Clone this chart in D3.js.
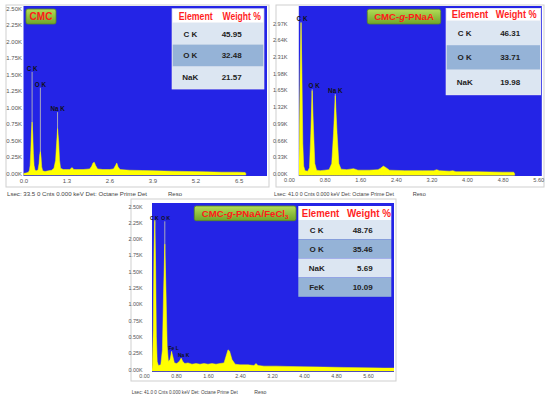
<!DOCTYPE html>
<html><head><meta charset="utf-8">
<script src="https://cdn.jsdelivr.net/npm/d3@7"></script>
<style>body{margin:0;background:#fff;} svg{display:block;font-family:Arial,"Liberation Sans",sans-serif;}</style>
</head><body><svg id="c" width="550" height="400"></svg>
<script>
// ---------- DATA ----------
// spectra: [energy keV, counts (K)]
const cmcSpectrum = [[0.0,0.0],[0.1,0.01],[0.15,0.02],[0.18,0.05],[0.2,0.12],[0.22,0.35],[0.24,0.62],[0.26,0.78],[0.28,0.6],[0.30,0.3],[0.32,0.12],[0.35,0.05],[0.40,0.04],[0.44,0.06],[0.47,0.15],[0.49,0.28],[0.51,0.33],[0.53,0.25],[0.55,0.1],[0.58,0.04],[0.65,0.03],[0.75,0.04],[0.85,0.05],[0.92,0.08],[0.97,0.2],[1.0,0.45],[1.03,0.68],[1.06,0.5],[1.09,0.2],[1.12,0.08],[1.2,0.06],[1.3,0.06],[1.4,0.06],[1.47,0.09],[1.52,0.06],[1.6,0.06],[1.8,0.06],[2.0,0.07],[2.06,0.11],[2.1,0.16],[2.14,0.17],[2.18,0.12],[2.24,0.07],[2.4,0.06],[2.6,0.06],[2.72,0.07],[2.78,0.12],[2.82,0.16],[2.86,0.1],[2.92,0.06],[3.2,0.05],[3.6,0.045],[4.0,0.04],[4.5,0.035],[5.0,0.03],[5.5,0.025],[6.0,0.02],[6.5,0.02],[6.7,0.015],[6.72,0]];
const pnaaSpectrum = [[0.22,0.0],[0.23,0.5],[0.25,2.0],[0.27,2.98],[0.29,2.0],[0.31,0.6],[0.33,0.15],[0.36,0.06],[0.42,0.05],[0.46,0.12],[0.49,0.8],[0.52,1.64],[0.55,0.9],[0.58,0.2],[0.62,0.07],[0.7,0.06],[0.8,0.07],[0.9,0.08],[0.96,0.2],[1.0,0.8],[1.04,1.54],[1.08,0.8],[1.12,0.2],[1.17,0.09],[1.3,0.08],[1.45,0.1],[1.55,0.07],[1.8,0.07],[2.0,0.08],[2.06,0.11],[2.12,0.15],[2.18,0.12],[2.26,0.07],[2.6,0.06],[3.0,0.06],[3.25,0.06],[3.32,0.08],[3.38,0.06],[3.6,0.05],[3.68,0.06],[3.75,0.04],[4.2,0.04],[4.8,0.03],[5.05,0.03],[5.07,0]];
const feSpectrum = [[0.2,0],[0.21,0.08],[0.23,0.6],[0.25,1.8],[0.27,2.29],[0.29,1.6],[0.31,0.5],[0.33,0.12],[0.36,0.06],[0.42,0.07],[0.46,0.3],[0.49,1.2],[0.52,1.92],[0.55,1.2],[0.58,0.35],[0.61,0.12],[0.65,0.15],[0.69,0.27],[0.72,0.2],[0.76,0.1],[0.82,0.09],[0.88,0.12],[0.93,0.17],[0.97,0.12],[1.02,0.09],[1.1,0.1],[1.2,0.08],[1.3,0.09],[1.4,0.08],[1.5,0.09],[1.6,0.08],[1.7,0.09],[1.8,0.08],[1.9,0.09],[2.0,0.1],[2.05,0.2],[2.1,0.3],[2.14,0.28],[2.2,0.15],[2.28,0.08],[2.4,0.07],[2.6,0.07],[2.75,0.06],[2.8,0.09],[2.85,0.06],[3.0,0.05],[3.3,0.05],[3.6,0.045],[4.0,0.04],[4.5,0.035],[5.0,0.03],[5.5,0.025],[6.0,0.02],[6.25,0.02]];

// peak markers
const cmcPeakNames = ["C K","O K","Na K"];
const cmcPeakEnergies = [0.26,0.51,1.03];
const cmcPeakLevels = [1.54,1.30,0.93];
const pnaaPeakNames = ["C K","O K","Na K"];
const pnaaPeakEnergies = [0.27,0.52,1.04];
const pnaaPeakLevels = [3.0,1.67,1.575];
const fePeakNames = ["C K","O K","Fe L","Na K"];
const fePeakEnergies = [0.27,0.52,0.69,0.93];
const fePeakLevels = [2.27,2.27,0.28,0.17];

// axis ticks
const cmcYTicks = [0,0.25,0.5,0.75,1.0,1.25,1.5,1.75,2.0,2.25,2.5];
const cmcXTicks = [0,1.3,2.6,3.9,5.2,6.5];
const pnaaYTicks = [0,0.33,0.66,0.99,1.32,1.65,1.98,2.31,2.64,2.97];
const pnaaXTicks = [0,0.8,1.6,2.4,3.2,4.0,4.8,5.6];
const feYTicks = [0,0.25,0.5,0.75,1.0,1.25,1.5,1.75,2.0,2.25,2.5];
const feXTicks = [0,0.8,1.6,2.4,3.2,4.0,4.8,5.6];

// tables
const tableHeaders = ["Element","Weight %"];
const cmcElements = ["C K","O K","NaK"];
const cmcWeights = ["45.95","32.48","21.57"];
const pnaaElements = ["C K","O K","NaK"];
const pnaaWeights = ["46.31","33.71","19.98"];
const feElements = ["C K","O K","NaK","FeK"];
const feWeights = ["48.76","35.46","5.69","10.09"];

const cmcCaption = "Lsec: 33.5 0 Cnts 0.000 keV Det: Octane Prime Det";
const pnaaCaption = "Lsec: 41.0 0 Cnts 0.000 keV Det: Octane Prime Det";
const feCaption = "Lsec: 41.0 0 Cnts 0.000 keV Det: Octane Prime Det";

// ---------- DRAW ----------
const svg = d3.select("#c");
svg.append("rect").attr("width",550).attr("height",400).attr("fill","#fff");
const defs = svg.append("defs");
const grad = defs.append("linearGradient").attr("id","gbtn").attr("x1",0).attr("x2",0).attr("y1",0).attr("y2",1);
grad.append("stop").attr("offset","0%").attr("stop-color","#b3dc55");
grad.append("stop").attr("offset","100%").attr("stop-color","#6fa52a");

const BLUE = "#2424e6";
const NARROW = "'Liberation Sans Narrow','Arial Narrow',Arial,sans-serif";

function drawPanel(c, idx){
  const g = svg.append("g");
  g.append("rect").attr("x",c.frame[0]).attr("y",c.frame[1]).attr("width",c.frame[2]).attr("height",c.frame[3])
    .attr("fill","#fff").attr("stroke","#cfcfcf").attr("stroke-width",1);
  const x = d3.scaleLinear().domain([0,c.xMax]).range([c.x0,c.xRight]);
  const y = d3.scaleLinear().domain([0,c.yMax]).range([c.yBottom,c.yTop]);
  const left = x(c.blueStart);
  g.append("rect").attr("x",left).attr("y",c.plotTop).attr("width",c.xRight-left).attr("height",c.plotBottom-c.plotTop).attr("fill",BLUE);
  const clipId = "clip"+idx;
  defs.append("clipPath").attr("id",clipId).append("rect").attr("x",left).attr("y",c.plotTop).attr("width",c.xRight-left).attr("height",c.plotBottom-c.plotTop);
  const pg = g.append("g").attr("clip-path",`url(#${clipId})`);
  c.peakNames.forEach((n,i)=>{
    pg.append("line").attr("x1",x(c.peakE[i])).attr("x2",x(c.peakE[i])).attr("y1",y(0)).attr("y2",y(c.peakL[i]))
      .attr("stroke","#b8b8b8").attr("stroke-width",0.9);
  });
  const area = d3.area().x(d=>x(d[0])).y0(y(0)+1.5).y1(d=>y(d[1]));
  pg.append("path").datum(c.spectrum).attr("d",area).attr("fill","#ffff00").attr("stroke","#ffff00").attr("stroke-width",0.5);
  c.peakNames.forEach((n,i)=>{
    g.append("text").attr("x",x(c.peakE[i])+(c.peakDx?c.peakDx[i]:0)).attr("y",y(c.peakL[i])-1)
      .attr("text-anchor","middle").attr("font-size",c.peakFont).attr("font-weight","bold").attr("fill","#111").text(n);
  });
  const ya = d3.axisLeft(y).tickValues(c.yTicks).tickSize(0).tickPadding(0).tickFormat(d=>d3.format(".2f")(d)+"K");
  const yg = g.append("g").attr("transform",`translate(${c.x0-1.5},0)`).call(ya);
  yg.select(".domain").remove();
  yg.selectAll("text").attr("font-size",c.tickFont).attr("fill","#555").attr("font-family",NARROW);
  const xa = d3.axisBottom(x).tickValues(c.xTicks).tickSize(0).tickPadding(0).tickFormat(d3.format(c.xFmt));
  const xg = g.append("g").attr("transform",`translate(0,${c.xLabelY})`).call(xa);
  xg.select(".domain").remove();
  xg.selectAll("text").attr("font-size",c.tickFont).attr("fill","#555").attr("dy","0.71em").attr("font-family",NARROW);
  g.append("text").attr("x",c.capX).attr("y",c.capY).attr("font-size",c.capFs).attr("fill","#444")
    .attr("textLength",c.capW).attr("lengthAdjust","spacingAndGlyphs").text(c.caption);
  g.append("text").attr("x",c.resoX).attr("y",c.capY).attr("font-size",c.capFs).attr("fill","#444").text("Reso");
  const t = c.title;
  g.append("rect").attr("x",t.x).attr("y",t.y).attr("width",t.w).attr("height",t.h).attr("rx",2)
    .attr("fill","url(#gbtn)").attr("stroke","#5a8a20").attr("stroke-width",0.8);
  const tt = g.append("text").attr("x",t.x+t.w/2).attr("y",t.y+t.h/2+3.4).attr("text-anchor","middle")
    .attr("font-size",t.fs).attr("font-weight","bold").attr("fill","#ff1a1a");
  t.parts.forEach(p=>{
    const s = tt.append("tspan").text(p.s);
    if(p.it) s.attr("font-style","italic");
    if(p.sub) s.attr("font-size",t.fs*0.65).attr("dy",2);
  });
  const tb = c.table;
  const n = c.elements.length;
  const th = tb.headH + n*tb.rowH;
  g.append("rect").attr("x",tb.x-1).attr("y",tb.y-1).attr("width",tb.w+2).attr("height",th+2).attr("fill",tb.border);
  g.append("rect").attr("x",tb.x).attr("y",tb.y).attr("width",tb.w).attr("height",tb.headH).attr("fill","#ffffff");
  tableHeaders.forEach((h,i)=>{
    g.append("text").attr("x",tb.x+tb.hx[i]).attr("y",tb.y+tb.headH/2+3.6).attr("text-anchor","middle")
      .attr("font-size",tb.hfs).attr("font-weight","bold").attr("fill","#ff1f1f")
      .attr("font-family",NARROW)
      .attr("textLength",tb.hw[i]).attr("lengthAdjust","spacingAndGlyphs").text(h);
  });
  c.elements.forEach((e,i)=>{
    const ry = tb.y+tb.headH+i*tb.rowH;
    g.append("rect").attr("x",tb.x).attr("y",ry).attr("width",tb.w).attr("height",tb.rowH)
      .attr("fill", i%2===0 ? "#dce6f2" : "#95b3d7");
    g.append("text").attr("x",tb.x+tb.ex).attr("y",ry+tb.rowH/2+2.9).attr("text-anchor","middle")
      .attr("font-size",8).attr("font-weight","bold").attr("fill","#222").text(e);
    g.append("text").attr("x",tb.x+tb.vx).attr("y",ry+tb.rowH/2+2.9).attr("text-anchor","end")
      .attr("font-size",8).attr("font-weight","bold").attr("fill","#222").text(c.weights[i]);
  });
}

drawPanel({
  frame:[6,5,263,182], x0:23.5, xRight:267, xMax:7.36, blueStart:0, yMax:2.5, yBottom:173.5, yTop:8.5,
  plotTop:6, plotBottom:176, spectrum:cmcSpectrum,
  peakNames:cmcPeakNames, peakE:cmcPeakEnergies, peakL:cmcPeakLevels, peakFont:6.3,
  yTicks:cmcYTicks, xTicks:cmcXTicks, xFmt:".1f", tickFont:6, xLabelY:178.5,
  caption:cmcCaption, capX:7, resoX:168, capY:196, capFs:6, capW:140,
  title:{x:26,y:9,w:30,h:15,fs:10,parts:[{s:"CMC"}]},
  table:{x:172.7,y:9.3,w:90.6,headH:13.4,rowH:21.9,hx:[23,69],hw:[34,38.5],hfs:10.5,ex:17.6,vx:69,border:"#e6e6f0"},
  elements:cmcElements, weights:cmcWeights
},1);

drawPanel({
  frame:[276,5,268,182], x0:289, xRight:541.8, xMax:5.68, blueStart:0.22, yMax:3.3, yBottom:173.7, yTop:6.7,
  plotTop:6, plotBottom:176, spectrum:pnaaSpectrum,
  peakNames:pnaaPeakNames, peakE:pnaaPeakEnergies, peakL:pnaaPeakLevels, peakFont:6.3, peakDx:[1,2,0],
  yTicks:pnaaYTicks, xTicks:pnaaXTicks, xFmt:".2f", tickFont:5.6, xLabelY:178.5,
  caption:pnaaCaption, capX:274, resoX:412.7, capY:196, capFs:5.6, capW:120,
  title:{x:367.3,y:9.3,w:73.4,h:14.7,fs:9.6,parts:[{s:"CMC-"},{s:"g",it:true},{s:"-PNaA"}]},
  table:{x:446.7,y:9,w:93.3,headH:11.7,rowH:24.5,hx:[23.3,69.5],hw:[36.5,41],hfs:10.5,ex:18,vx:73.5,border:"#e6e6f0"},
  elements:pnaaElements, weights:pnaaWeights
},2);

drawPanel({
  frame:[131,199,265,182], x0:144, xRight:394, xMax:6.25, blueStart:0.2, yMax:2.5, yBottom:369.4, yTop:206.3,
  plotTop:203, plotBottom:372, spectrum:feSpectrum,
  peakNames:fePeakNames, peakE:fePeakEnergies, peakL:fePeakLevels, peakFont:5, peakDx:[-0.5,1,2,2.5],
  yTicks:feYTicks, xTicks:feXTicks, xFmt:".2f", tickFont:5.4, xLabelY:374.5,
  caption:feCaption, capX:131.7, resoX:254.3, capY:394, capFs:5.2, capW:106,
  title:{x:194.3,y:206,w:101.7,h:14.7,fs:9.6,parts:[{s:"CMC-"},{s:"g",it:true},{s:"-PNaA/FeCl"},{s:"3",sub:true}]},
  table:{x:298.3,y:206,w:93,headH:14,rowH:19.2,hx:[22.2,70.7],hw:[37.5,44],hfs:10.5,ex:18.4,vx:74.4,border:BLUE},
  elements:feElements, weights:feWeights
},3);
</script></body></html>
